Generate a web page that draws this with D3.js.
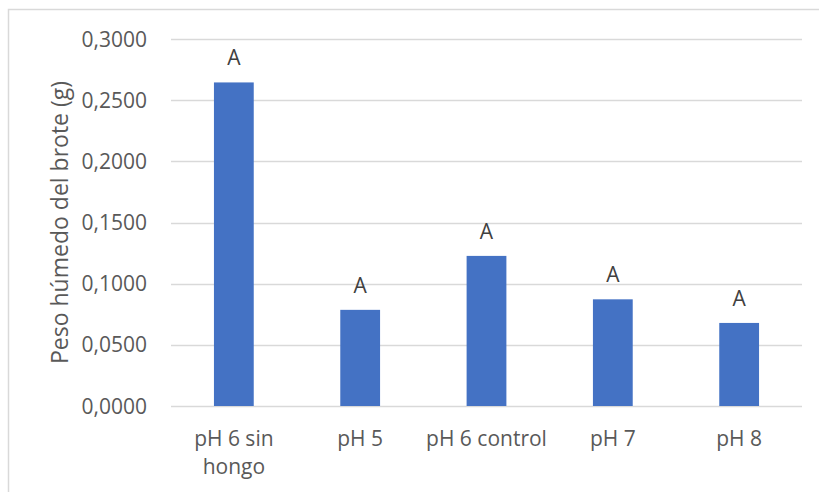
<!DOCTYPE html>
<html>
<head>
<meta charset="utf-8">
<script src="https://cdn.jsdelivr.net/npm/d3@7"></script>
<style>
  body { margin: 0; background: #fff; }
  text { font-family: "Open Sans", "Noto Sans", sans-serif; fill: #595959; }
</style>
</head>
<body>
<div id="chart"></div>
<script>
var categories = ["pH 6 sin hongo", "pH 5", "pH 6 control", "pH 7", "pH 8"];
var values = [0.2645, 0.0786, 0.1227, 0.0872, 0.0679];
var letters = ["A", "A", "A", "A", "A"];
var yTicks = [0, 0.05, 0.1, 0.15, 0.2, 0.25, 0.3];

var width = 819, height = 492;
var margin = {left: 171, right: 17, top: 39, bottom: 86};

var svg = d3.select("#chart").append("svg")
    .attr("width", width)
    .attr("height", height);

// chart frame (only top and left edges visible)
svg.append("rect")
    .attr("x", 8.5).attr("y", 9.5)
    .attr("width", 900).attr("height", 600)
    .attr("fill", "none")
    .attr("stroke", "#d9d9d9")
    .attr("stroke-width", 1.5);

var x = d3.scaleBand()
    .domain(categories)
    .range([margin.left, width - margin.right])
    .paddingInner(0.685)
    .paddingOuter(0.34);

var y = d3.scaleLinear()
    .domain([0, 0.3])
    .range([height - margin.bottom, margin.top]);

var fmt = function (d) { return d3.format(".4f")(d).replace(".", ","); };

// gridlines
svg.append("g")
    .selectAll("line")
    .data(yTicks)
    .enter()
    .append("line")
    .attr("x1", margin.left)
    .attr("x2", width - margin.right)
    .attr("y1", function (d) { return Math.round(y(d)) + 0.5; })
    .attr("y2", function (d) { return Math.round(y(d)) + 0.5; })
    .attr("stroke", "#d9d9d9")
    .attr("stroke-width", 1.5);

// y tick labels
svg.append("g")
    .selectAll("text")
    .data(yTicks)
    .enter()
    .append("text")
    .attr("x", 147)
    .attr("y", function (d) { return y(d); })
    .attr("dy", "0.36em")
    .attr("text-anchor", "end")
    .style("font-size", "21px")
    .text(fmt);

// bars
svg.append("g")
    .selectAll("rect")
    .data(values)
    .enter()
    .append("rect")
    .attr("x", function (d, i) { return x(categories[i]); })
    .attr("width", x.bandwidth())
    .attr("y", function (d) { return y(d); })
    .attr("height", function (d) { return y(0) - y(d); })
    .attr("fill", "#4472c4");

// letters above bars
svg.append("g")
    .selectAll("text")
    .data(values)
    .enter()
    .append("text")
    .attr("x", function (d, i) { return x(categories[i]) + x.bandwidth() / 2; })
    .attr("y", function (d) { return y(d) - 17; })
    .attr("text-anchor", "middle")
    .style("font-size", "21px")
    .style("fill", "#404040")
    .text(function (d, i) { return letters[i]; });

// x labels, wrapped like the original
var xLabels = {"pH 6 sin hongo": ["pH 6 sin", "hongo"]};
svg.append("g")
    .selectAll("text")
    .data(categories)
    .enter()
    .append("text")
    .attr("x", function (d) { return x(d) + x.bandwidth() / 2; })
    .attr("y", 446)
    .attr("text-anchor", "middle")
    .style("font-size", "21px")
    .each(function (d) {
        var lines = xLabels[d] || [d];
        var t = d3.select(this);
        lines.forEach(function (l, i) {
            t.append("tspan")
                .attr("x", x(d) + x.bandwidth() / 2)
                .attr("dy", i === 0 ? 0 : 28)
                .text(l);
        });
    });

// y axis title
svg.append("text")
    .attr("transform", "translate(68," + (y(0) + y(0.3)) / 2 + ") rotate(-90)")
    .attr("text-anchor", "middle")
    .style("font-size", "23px")
    .text("Peso húmedo del brote (g)");
</script>
</body>
</html>
